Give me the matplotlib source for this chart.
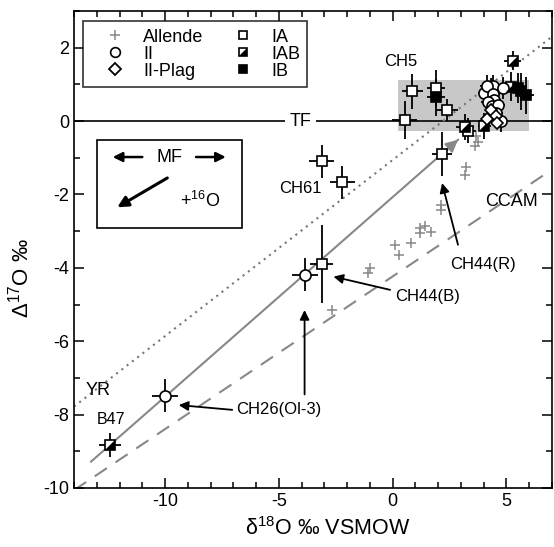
import numpy as np
import matplotlib
matplotlib.use('Agg')
import matplotlib.pyplot as plt
from matplotlib.lines import Line2D
from matplotlib.patches import Rectangle

plt.rcParams['font.family'] = ['Liberation Sans', 'DejaVu Sans']
plt.rcParams['mathtext.fontset'] = 'custom'
plt.rcParams['mathtext.rm'] = 'Liberation Sans'
plt.rcParams['mathtext.it'] = 'Liberation Sans:italic'
plt.rcParams['axes.unicode_minus'] = False

# data: x = d18O, y = D17O, errors
ia_x = [0.87, 0.53, 1.91, 2.38, 3.30, 4.30, 4.40, -3.12, -2.21, -3.12, 2.17]
ia_y = [0.81, 0.03, 0.90, 0.29, -0.26, 0.82, 0.50, -1.10, -1.67, -3.89, -0.89]
ia_xe = [0.47, 0.55, 0.40, 0.47, 0.35, 0.30, 0.30, 0.55, 0.55, 0.50, 0.45]
ia_ye = [0.48, 0.52, 0.50, 0.30, 0.35, 0.35, 0.35, 0.45, 0.45, 1.07, 0.60]

iab_x = [3.19, 5.27, 4.03, 5.20, -12.42]
iab_y = [-0.16, 1.65, -0.14, 0.94, -8.83]
iab_xe = [0.40, 0.36, 0.30, 0.30, 0.50]
iab_ye = [0.35, 0.27, 0.35, 0.40, 0.32]

ib_x = [1.91, 5.50, 5.64, 5.86]
ib_y = [0.65, 0.90, 0.81, 0.70]
ib_xe = [0.40, 0.30, 0.35, 0.35]
ib_ye = [0.50, 0.40, 0.50, 0.50]

ii_x = [4.40, 4.84, 4.03, 4.15, 4.40, 4.47, 4.20, 4.35, 4.62, 4.76, 4.55, -3.84, -10.0]
ii_y = [0.96, 0.90, 0.76, 0.95, 0.75, 0.58, 0.52, 0.40, 0.45, -0.01, 0.22, -4.19, -7.48]
ii_xe = [0.30, 0.30, 0.30, 0.30, 0.30, 0.30, 0.30, 0.30, 0.30, 0.30, 0.30, 0.58, 0.58]
ii_ye = [0.30, 0.30, 0.30, 0.30, 0.30, 0.30, 0.30, 0.30, 0.30, 0.30, 0.30, 0.45, 0.45]

plag_x = [4.33, 4.54, 4.15, 4.60]
plag_y = [0.31, 0.13, 0.05, -0.05]

allende_x = [3.67, 3.74, 3.60, 3.23, 3.19, 2.14, 2.14, 1.19, 1.41, 1.19, 1.70,
             0.10, 0.82, 0.27, -1.00, -1.10, -2.68]
allende_y = [-0.42, -0.56, -0.69, -1.24, -1.46, -2.28, -2.42, -2.92, -2.87, -3.05, -3.01,
             -3.37, -3.33, -3.65, -4.00, -4.15, -5.15]

# reference lines (end points)
tf_x, tf_y = [-14, 7], [0, 0]
yr_x, yr_y = [-14, 7], [-7.78, 2.30]
ccam_x, ccam_y = [-14, 7], [-10.06, -1.32]
pcm_x, pcm_y = [-13.25, 2.87], [-9.28, -0.51]
box_x, box_y = [0.24, 6.0], [-0.26, 1.13]

fig = plt.figure(figsize=(5.54, 5.47), dpi=100)
ax = fig.add_axes([74 / 554, 1 - 488 / 547, 478 / 554, 477 / 547])

ax.add_patch(Rectangle((box_x[0], box_y[0]), box_x[1] - box_x[0], box_y[1] - box_y[0],
                       facecolor='#c8c8c8', edgecolor='none', zorder=0))

ax.plot(tf_x, tf_y, color='k', lw=1.2, zorder=1)
ax.plot(yr_x, yr_y, color='#777777', lw=1.5, ls=(0, (1, 2.2)), zorder=1)
ax.plot(ccam_x, ccam_y, color='#888888', lw=1.5, ls=(0, (7, 5)), zorder=1)
ax.plot(pcm_x, pcm_y, color='#888888', lw=1.5, zorder=1)
ax.annotate('', xy=(pcm_x[1], pcm_y[1]),
            xytext=(pcm_x[1] - 0.8, pcm_y[1] - 0.8 * (pcm_y[1] - pcm_y[0]) / (pcm_x[1] - pcm_x[0])),
            arrowprops=dict(arrowstyle='-|>', color='#888888', lw=1.5, mutation_scale=18,
                            shrinkA=0, shrinkB=0), zorder=1)

ax.plot(allende_x, allende_y, '+', color='#888888', ms=7, mew=1.1, zorder=2)

eb = dict(fmt='none', ecolor='k', elinewidth=1.3, capsize=0, zorder=3)
ax.errorbar(ia_x, ia_y, xerr=ia_xe, yerr=ia_ye, **eb)
ax.errorbar(iab_x, iab_y, xerr=iab_xe, yerr=iab_ye, **eb)
ax.errorbar(ib_x, ib_y, xerr=ib_xe, yerr=ib_ye, **eb)
ax.errorbar(ii_x, ii_y, xerr=ii_xe, yerr=ii_ye, **eb)

tri = [(1, 1), (1, -1), (-1, -1)]
sq = dict(ms=6.5, mew=1.2, mec='k', ls='none')
ax.plot(ia_x, ia_y, 's', mfc='white', zorder=4, **sq)
ax.plot(iab_x, iab_y, 's', mfc='white', zorder=4, **sq)
ax.plot(iab_x, iab_y, marker=tri, mfc='k', ms=6.5, mew=0, ls='none', zorder=5)
ax.plot(ib_x, ib_y, 's', mfc='k', zorder=4, **sq)
ax.plot(ii_x, ii_y, 'o', mfc='white', mec='k', ms=8, mew=1.2, ls='none', zorder=4)
ax.plot(plag_x, plag_y, 'D', mfc='white', mec='k', ms=6, mew=1.2, ls='none', zorder=5)

# labels
ax.text(0.37, 1.63, 'CH5', fontsize=12, ha='center', va='center')
ax.text(-4.05, 0, 'TF', fontsize=13, ha='center', va='center',
        bbox=dict(facecolor='white', edgecolor='none', pad=3), zorder=2)
ax.text(-4.06, -1.85, 'CH61', fontsize=12, ha='center', va='center')
ax.text(5.2, -2.2, 'CCAM', fontsize=13, ha='center', va='center')
ax.text(3.96, -3.9, 'CH44(R)', fontsize=12, ha='center', va='center')
ax.text(1.55, -4.78, 'CH44(B)', fontsize=12, ha='center', va='center')
ax.text(-5.0, -7.87, 'CH26(Ol-3)', fontsize=12, ha='center', va='center')
ax.text(-12.96, -7.33, 'YR', fontsize=13, ha='center', va='center')
ax.text(-12.38, -8.13, 'B47', fontsize=11.5, ha='center', va='center')

ap = dict(arrowstyle='-|>', color='k', lw=1.3, mutation_scale=14, shrinkA=0, shrinkB=0)
ax.annotate('', xy=(2.17, -1.69), xytext=(2.87, -3.37), arrowprops=ap)
ax.annotate('', xy=(-2.6, -4.24), xytext=(-0.11, -4.6), arrowprops=ap)
ax.annotate('', xy=(-3.87, -5.15), xytext=(-3.87, -7.45), arrowprops=ap)
ax.annotate('', xy=(-9.4, -7.74), xytext=(-7.05, -7.87), arrowprops=ap)

# MF box
ax.add_patch(Rectangle((-12.98, -2.91), 6.35, 2.40, facecolor='white', edgecolor='k',
                       lw=1.2, zorder=2))
ax.text(-9.82, -0.98, 'MF', fontsize=13, ha='center', va='center', zorder=3)
ax.annotate('', xy=(-12.3, -0.98), xytext=(-11.0, -0.98), arrowprops=dict(ap, lw=1.8), zorder=3)
ax.annotate('', xy=(-7.33, -0.98), xytext=(-8.64, -0.98), arrowprops=dict(ap, lw=1.8), zorder=3)
ax.annotate('', xy=(-12.1, -2.35), xytext=(-9.9, -1.55),
            arrowprops=dict(ap, lw=2.2, mutation_scale=16), zorder=3)
ax.text(-8.46, -2.19, '+$^{16}$O', fontsize=13, ha='center', va='center', zorder=3)

# legend
h_all = Line2D([], [], marker='+', color='#888888', ls='none', ms=7, mew=1.1)
h_ii = Line2D([], [], marker='o', mfc='white', mec='k', ls='none', ms=7, mew=1.2)
h_pl = Line2D([], [], marker='D', mfc='white', mec='k', ls='none', ms=6, mew=1.3)
h_ia = Line2D([], [], marker='s', mfc='white', mec='k', ls='none', ms=6, mew=1.2)
h_iab = (Line2D([], [], marker='s', mfc='white', mec='k', ls='none', ms=6, mew=1.2),
         Line2D([], [], marker=tri, mfc='k', mew=0, ls='none', ms=6))
h_ib = Line2D([], [], marker='s', mfc='k', mec='k', ls='none', ms=6, mew=1.2)
leg = ax.legend([h_all, h_ii, h_pl, h_ia, h_iab, h_ib],
                ['Allende', 'II', 'II-Plag', 'IA', 'IAB', 'IB'],
                ncol=2, loc='upper left', bbox_to_anchor=(0.018, 0.978), borderaxespad=0,
                fontsize=13, frameon=True, fancybox=False, edgecolor='k',
                labelspacing=0.0, columnspacing=0.82, handlelength=2.78, handletextpad=0.16,
                borderpad=0.4)
leg.get_frame().set_linewidth(1.2)
leg.set_zorder(6)

ax.set_xlim(-14, 7)
ax.set_ylim(-10, 3)
ax.set_xticks([-10, -5, 0, 5])
ax.set_yticks([-10, -8, -6, -4, -2, 0, 2])
ax.set_xticks(np.arange(-14, 8, 1), minor=True)
ax.set_yticks(np.arange(-10, 4, 1), minor=True)
ax.tick_params(which='both', direction='in', top=True, right=True, labelsize=13, width=1.1)
ax.tick_params(which='major', length=7)
ax.tick_params(which='minor', length=4)
for s in ax.spines.values():
    s.set_linewidth(1.2)

ax.set_xlabel('\u03b4$^{18}$O \u2030 VSMOW', fontsize=15.5)
ax.set_ylabel('\u0394$^{17}$O \u2030', fontsize=16)
ax.xaxis.set_label_coords(0.53, -0.06)
ax.yaxis.set_label_coords(-0.084, 0.44)

fig.savefig('out.png', dpi=100)
